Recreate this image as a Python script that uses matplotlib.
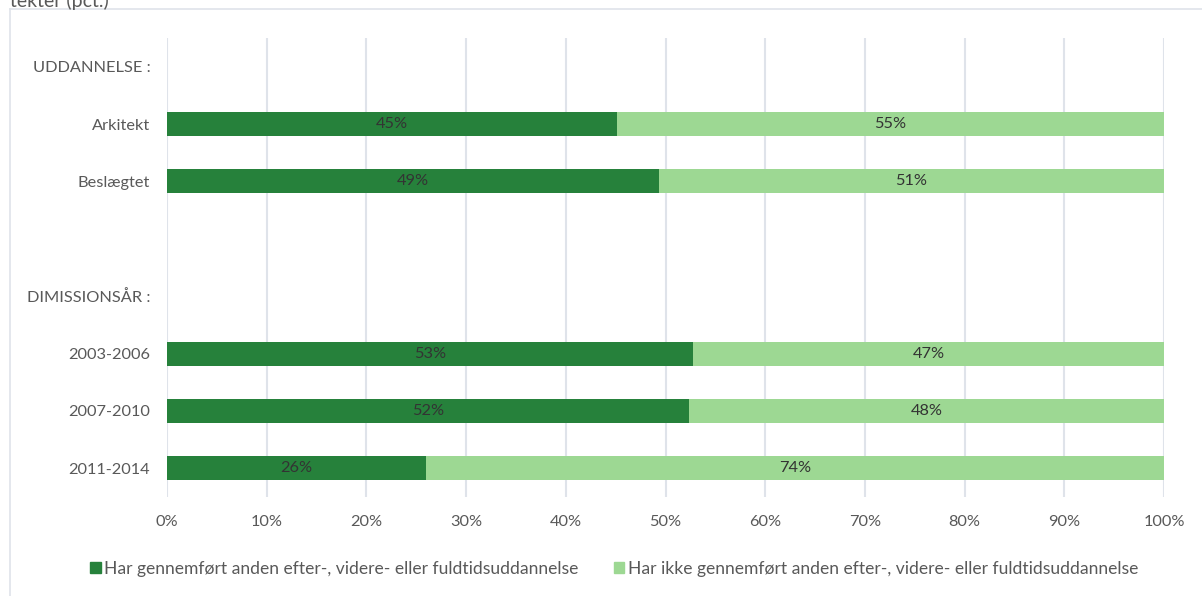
import numpy as np
import matplotlib
matplotlib.use("Agg")
import matplotlib.pyplot as plt
from matplotlib.lines import Line2D
from matplotlib.patches import Patch

plt.rcParams['font.family'] = ['Lato', 'DejaVu Sans']

# rows from top to bottom; None = heading / spacer row without a bar
categories = ["UDDANNELSE :", "Arkitekt", "Beslægtet", "", "DIMISSIONSÅR :",
              "2003-2006", "2007-2010", "2011-2014"]
done = [None, 45.1, 49.3, None, None, 52.8, 52.4, 26.0]
not_done = [None, 54.9, 50.7, None, None, 47.2, 47.6, 74.0]
xticks = np.arange(0, 101, 10)
legend_labels = ["Har gennemført anden efter-, videre- eller fuldtidsuddannelse",
                 "Har ikke gennemført anden efter-, videre- eller fuldtidsuddannelse"]

DARK = "#26813b"
LIGHT = "#9dd893"
TXT = "#595959"
FS = 11.8

fig = plt.figure(figsize=(12.02, 5.96), dpi=100)
ax = fig.add_axes([167 / 1202, 1 - 497 / 596, 997 / 1202, 459 / 596])

n = len(categories)
ypos = np.arange(n)[::-1]
for y, d, nd in zip(ypos, done, not_done):
    if d is None:
        continue
    ax.barh(y, d, height=0.42, color=DARK, zorder=3)
    ax.barh(y, nd, left=d, height=0.42, color=LIGHT, zorder=3)
    ax.text(d / 2, y, f"{round(d)}%", ha='center', va='center',
            fontsize=FS, color="#333333", zorder=4)
    ax.text(d + nd / 2, y, f"{round(nd)}%", ha='center', va='center',
            fontsize=FS, color="#333333", zorder=4)

ax.set_xlim(0, 100)
ax.set_ylim(-0.5, n - 0.5)
ax.set_xticks(xticks)
ax.set_xticklabels([f"{t}%" for t in xticks], fontsize=FS, color=TXT)
ax.set_yticks(ypos)
ax.set_yticklabels(categories, fontsize=FS, color=TXT)
ax.tick_params(axis='both', length=0)
ax.tick_params(axis='y', pad=12)
ax.tick_params(axis='x', pad=13)
ax.grid(axis='x', color="#dfe3ea", linewidth=1.5, zorder=0)
for s in ax.spines.values():
    s.set_visible(False)

handles = [Patch(color=DARK), Patch(color=LIGHT)]
fig.legend(handles, legend_labels, loc='center', bbox_to_anchor=(0.511, 1 - 569 / 596),
           ncol=2, frameon=False, fontsize=12.6, handlelength=0.6, handleheight=0.6,
           handletextpad=0.2, columnspacing=2.0, labelcolor=TXT)

# outer frame (runs off the canvas at right and bottom) and clipped title
fig.add_artist(Line2D([10 / 1202, 10 / 1202], [0, 1 - 9 / 596], color="#dfe3ea", lw=1.2))
fig.add_artist(Line2D([10 / 1202, 1], [1 - 9 / 596, 1 - 9 / 596], color="#dfe3ea", lw=1.2))
fig.text(10 / 1202, 1 - 1 / 596, "tekter (pct.)", fontsize=14, color=TXT, ha='left', va='center')

fig.savefig("out.png", dpi=100)
